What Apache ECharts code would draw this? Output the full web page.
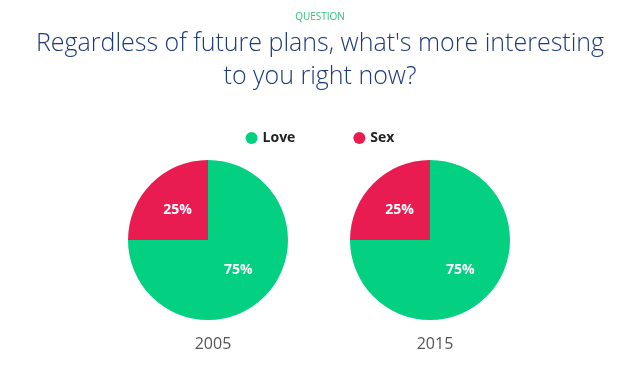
<!DOCTYPE html>
<html><head><meta charset="utf-8">
<script src="https://cdn.jsdelivr.net/npm/echarts@6/dist/echarts.min.js"></script>
<style>html,body{margin:0;padding:0;background:#fff}#c{width:640px;height:379px}</style>
</head><body><div id="c"></div>
<script>
const categories = ["Love", "Sex"];
const years = ["2005", "2015"];
const values2005 = [75, 25];
const values2015 = [75, 25];
const colors = ["#03d080", "#e91c52"];

const chart = echarts.init(document.getElementById('c'), null, {renderer: 'canvas'});
const font = '"Open Sans", sans-serif';
function pieSeries(name, vals, cx) {
  return {
    type: 'pie', name: name, radius: 80, center: [cx, 240],
    startAngle: 90, clockwise: true, silent: true,
    label: {show: true, position: 'inside', formatter: '{d}%', color: '#fff',
            fontFamily: font, fontWeight: 'bold', fontSize: 14},
    labelLine: {show: false},
    itemStyle: {borderWidth: 0},
    data: categories.map((c, i) => ({name: c, value: vals[i], itemStyle: {color: colors[i]}}))
  };
}
chart.setOption({
  animation: false,
  title: [
    {text: 'QUESTION', left: 'center', top: 7, textStyle: {fontFamily: font, fontSize: 10, fontWeight: 'normal', color: '#2ec27e'}},
    {text: "Regardless of future plans, what's more interesting\nto you right now?", left: 'center', top: 22,
     textStyle: {fontFamily: font, fontSize: 25, fontWeight: 300, color: '#1c3a7c', lineHeight: 33}},
    {text: years[0], left: 208, top: 331, textAlign: 'center', textStyle: {fontFamily: font, fontSize: 16, fontWeight: 'normal', color: '#555'}},
    {text: years[1], left: 430, top: 331, textAlign: 'center', textStyle: {fontFamily: font, fontSize: 16, fontWeight: 'normal', color: '#555'}}
  ],
  legend: {
    top: 126, left: 'center', icon: 'circle', itemWidth: 12, itemHeight: 12, itemGap: 58,
    textStyle: {fontFamily: font, fontSize: 14, fontWeight: 'bold', color: '#222'},
    data: categories
  },
  series: [pieSeries(years[0], values2005, 208), pieSeries(years[1], values2015, 430)]
});
</script></body></html>
